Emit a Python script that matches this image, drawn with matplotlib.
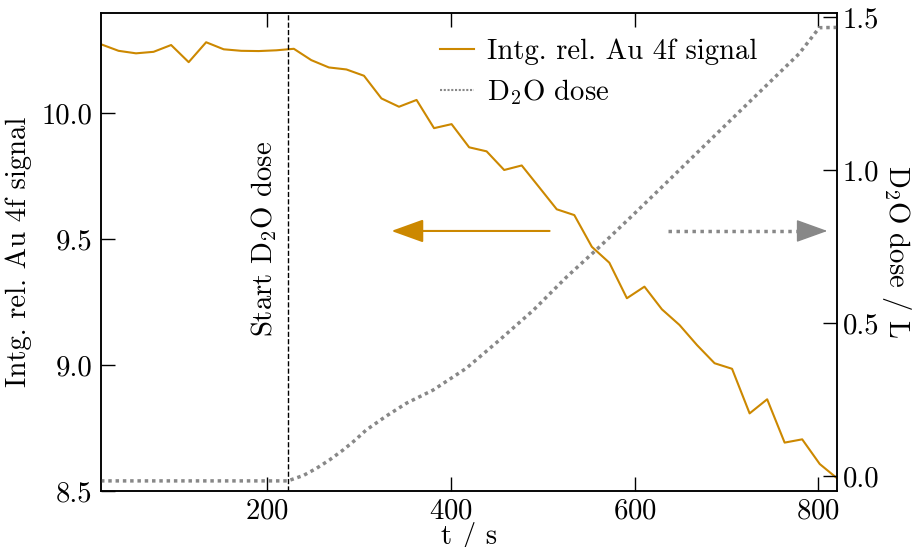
import matplotlib
matplotlib.use('Agg')
import matplotlib.pyplot as plt
from matplotlib.lines import Line2D

plt.rcParams['font.family'] = 'serif'
plt.rcParams['font.serif'] = ['cmr10']
plt.rcParams['mathtext.fontset'] = 'cm'
plt.rcParams['axes.formatter.use_mathtext'] = True
plt.rcParams['font.size'] = 20.7

ORANGE = '#cc8800'
GREY = '#888888'

# Au 4f signal, one value per spectrum
t_signal = [19.6, 38.7, 57.7, 76.8, 95.9, 115.0, 134.0, 153.1, 172.2, 191.2,
            210.3, 229.4, 248.4, 267.5, 286.6, 305.7, 324.7, 343.8, 362.9, 381.9,
            401.0, 420.1, 439.1, 458.2, 477.3, 496.4, 515.4, 534.5, 553.6, 572.6,
            591.7, 610.8, 629.8, 648.9, 668.0, 687.1, 706.1, 725.2, 744.3, 763.3,
            782.4, 801.5, 820.5]
au4f = [10.273, 10.247, 10.237, 10.243, 10.270, 10.202, 10.281, 10.253, 10.247, 10.246,
        10.249, 10.255, 10.210, 10.181, 10.173, 10.148, 10.058, 10.025, 10.052, 9.940,
        9.956, 9.864, 9.848, 9.774, 9.792, 9.705, 9.618, 9.595, 9.469, 9.406,
        9.265, 9.311, 9.221, 9.159, 9.079, 9.007, 8.985, 8.808, 8.864, 8.692,
        8.705, 8.607, 8.550]

# accumulated D2O dose (Langmuir)
t_dose = [19.6, 222.8, 228.6, 240.0, 254.0, 268.0, 283.0, 296.0, 308.0, 330.0,
          352.0, 381.0, 417.0, 453.0, 490.0, 526.0, 562.0, 598.0, 634.5, 671.0,
          707.0, 743.0, 779.0, 801.0, 820.5]
dose = [-0.016, -0.016, -0.010, 0.002, 0.025, 0.052, 0.085, 0.117, 0.150, 0.196,
        0.238, 0.281, 0.352, 0.444, 0.542, 0.650, 0.749, 0.852, 0.958, 1.065,
        1.170, 1.275, 1.380, 1.465, 1.466]

t_start = 222.8

# arrow positions (t in s, signal axis units)
arrow_y = 9.532
left_arrow = (507.6, 335.5)
right_arrow = (635.9, 809.8)
head_len_t = 28.0

fig = plt.figure(figsize=(9.18, 5.47), dpi=100)
ax = fig.add_axes([0.110, 0.1024, 0.802, 0.8738])
ax2 = ax.twinx()

ax.plot(t_signal, au4f, color=ORANGE, lw=1.5)
ax2.plot(t_dose, dose, color=GREY, lw=2.5, linestyle=(0, (1, 1.1)))
ax.axvline(t_start, color='black', lw=1.0, linestyle='--')

ax.text(t_start - 10, 9.5, 'Start D$_2$O dose', rotation=90,
        ha='right', va='center')

head = '-|>,head_length=1.0,head_width=0.36'
ax.annotate('', xy=(left_arrow[1], arrow_y), xytext=(left_arrow[0], arrow_y),
            arrowprops=dict(arrowstyle=head, mutation_scale=20, color=ORANGE,
                            lw=1.5, shrinkA=0, shrinkB=0))
# dotted shaft, solid head
ax.plot([right_arrow[0], right_arrow[1] - head_len_t], [arrow_y, arrow_y],
        color=GREY, lw=2.5, linestyle=(0, (1, 1.3)))
ax.annotate('', xy=(right_arrow[1], arrow_y),
            xytext=(right_arrow[1] - head_len_t - 2, arrow_y),
            arrowprops=dict(arrowstyle=head, mutation_scale=20, color=GREY,
                            lw=1.0, shrinkA=0, shrinkB=0))

ax.set_xlim(19.6, 820.5)
ax.set_ylim(8.5, 10.397)
ax2.set_ylim(-0.049, 1.513)
ax.set_xticks([200, 400, 600, 800])
ax.set_yticks([8.5, 9.0, 9.5, 10.0])
ax2.set_yticks([0.0, 0.5, 1.0, 1.5])
ax.yaxis.set_major_formatter(plt.FormatStrFormatter('%.1f'))
ax2.yaxis.set_major_formatter(plt.FormatStrFormatter('%.1f'))

ax.tick_params(direction='in', length=10, width=1.0, top=True, pad=6)
ax.tick_params(axis='x', pad=5.5)
ax2.tick_params(direction='in', length=10, width=1.0, pad=4)
for a in (ax, ax2):
    for s in a.spines.values():
        s.set_linewidth(1.1)

ax.set_xlabel('t / s', labelpad=-2)
ax.set_ylabel('Intg. rel. Au 4f signal', labelpad=7)
ax2.set_ylabel('D$_2$O dose / L', rotation=270, labelpad=24)

handles = [Line2D([], [], color=ORANGE, lw=1.5),
           Line2D([], [], color=GREY, lw=1.5, linestyle=(0, (1, 0.8)))]
ax2.legend(handles, ['Intg. rel. Au 4f signal', 'D$_2$O dose'],
           loc='upper left', bbox_to_anchor=(0.425, 1.0), frameon=False,
           handlelength=1.2, handletextpad=0.45, labelspacing=0.4)

fig.savefig('out.png', dpi=100)
